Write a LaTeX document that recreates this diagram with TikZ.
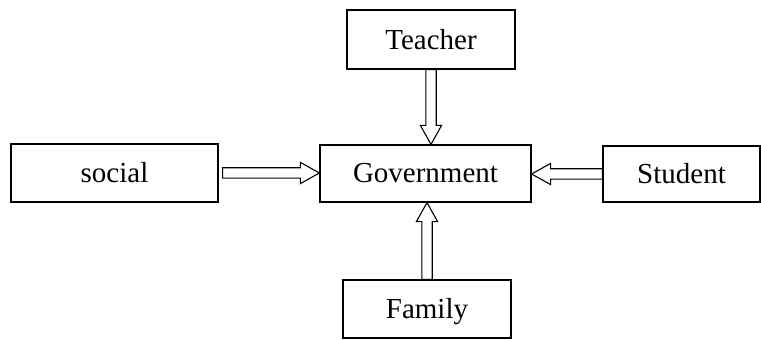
\documentclass[tikz,border=0pt]{standalone}
\usepackage{fontspec}
\setmainfont{Liberation Serif}
\usetikzlibrary{calc, positioning}

\begin{document}
\begin{tikzpicture}[
  x=0.5pt, y=-0.5pt,
  font=\fontsize{14.5}{17}\selectfont,
  box/.style={draw, line width=0.6pt, inner sep=0pt, minimum height=29pt, align=center},
  % hollow block arrow, drawn as one outline from start to tip
  fat/.style={draw, line width=0.55pt, fill=white, to path={
    let \p1=(\tikztostart), \p2=(\tikztotarget),
        \p3=($(\p2)!9.5pt!(\p1)$) in
    ($(\p1)!2.6pt!-90:(\p2)$) -- ($(\p3)!2.6pt!90:(\p1)$)
    -- ($(\p3)!5.3pt!90:(\p1)$) -- (\p2)
    -- ($(\p3)!5.3pt!-90:(\p1)$) -- ($(\p3)!2.6pt!-90:(\p1)$)
    -- ($(\p1)!2.6pt!90:(\p2)$) -- cycle}}
]
\useasboundingbox (0,0) rectangle (761,340);
\node[box, minimum width=105.5pt, minimum height=28.5pt] (gov) at (425.5,173.5) {Government};
\node[box, minimum width=84pt, minimum height=29.5pt] (teacher) at (431,39.5) {Teacher};
\node[box, minimum width=103.5pt] (social) at (114.5,173) {social};
\node[box, minimum width=78.5pt, minimum height=28pt] (student) at (681.5,174) {Student};
\node[box, minimum width=84pt, text depth=1pt] (family) at (427,309) {Family};
\draw[fat] (teacher.south) to (teacher.south |- gov.north);
\draw[fat] ([xshift=2pt]social.east) to (social.east -| gov.west);
\draw[fat] (student.west) to (student.west -| gov.east);
\draw[fat] (family.north) to (family.north |- gov.south);
\end{tikzpicture}
\end{document}
